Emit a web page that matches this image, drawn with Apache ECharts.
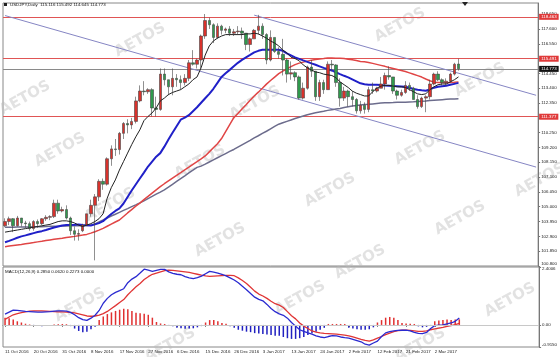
<!DOCTYPE html>
<html><head><meta charset="utf-8">
<script src="https://cdn.jsdelivr.net/npm/echarts@6/dist/echarts.min.js"></script>
<style>html,body{margin:0;padding:0;background:#fff}#c{width:560px;height:357px}</style>
</head><body><div id="c"></div>
<script>
// ---------- DATA ----------
const dateTicks = ['11 Oct 2016','20 Oct 2016','31 Oct 2016','8 Nov 2016','17 Nov 2016','27 Nov 2016','6 Dec 2016','15 Dec 2016','26 Dec 2016','3 Jan 2017','13 Jan 2017','24 Jan 2017','2 Feb 2017','12 Feb 2017','21 Feb 2017','2 Mar 2017'];
const opens = [103.65,103.95,104.15,103.65,104.20,103.85,103.80,103.45,103.95,103.80,104.15,104.25,104.30,105.25,104.70,104.80,104.20,103.30,103.05,103.30,103.70,104.50,105.10,105.70,106.80,106.60,108.40,109.10,109.05,110.20,110.90,110.80,111.05,112.50,113.20,113.15,113.30,112.00,111.90,114.40,114.00,113.50,114.10,114.00,113.80,114.10,115.20,115.10,115.40,117.10,118.20,117.90,117.00,117.80,117.50,117.60,117.30,117.40,117.45,117.30,116.50,116.90,117.50,117.80,117.20,115.40,117.00,116.00,115.80,115.40,114.40,114.50,114.20,112.70,113.40,114.90,114.60,112.80,113.80,113.30,115.10,115.05,113.80,112.70,113.20,112.80,112.60,111.80,112.20,111.90,113.30,113.20,113.40,113.70,114.30,114.20,113.20,112.90,113.10,113.60,113.40,112.60,112.10,112.70,112.80,113.70,114.40,114.00,113.80,113.90,114.40,115.116];
const highs = [104.18,104.30,104.20,104.35,104.20,104.00,103.95,104.05,104.10,104.20,104.40,104.40,105.50,105.50,105.00,105.10,104.30,103.60,103.40,103.80,104.50,105.50,105.90,106.95,107.00,108.50,109.35,109.80,110.30,111.00,111.20,111.30,112.80,113.60,113.90,113.40,113.40,112.80,114.80,114.80,114.00,114.80,114.40,114.30,114.40,115.40,116.10,115.50,117.20,118.66,118.40,118.00,118.00,117.90,117.70,117.80,117.60,117.80,117.70,117.30,117.00,117.60,118.60,118.00,117.30,117.50,117.00,116.30,116.90,115.50,115.30,114.60,114.30,113.80,115.00,115.40,114.60,114.00,114.00,115.30,115.40,115.10,114.10,113.50,113.30,113.20,112.70,112.50,112.40,113.50,113.80,113.50,114.20,114.50,114.95,114.20,113.30,113.30,113.90,113.80,113.50,112.90,112.80,112.90,114.00,114.50,114.60,114.10,114.10,114.50,115.20,115.492];
const lows = [103.55,103.70,103.20,103.60,103.60,103.50,103.30,103.30,103.50,103.70,104.00,104.05,104.20,104.50,104.60,104.10,103.00,102.60,102.60,103.20,103.70,104.30,101.20,105.40,106.20,106.50,107.90,108.60,108.70,109.80,110.20,110.50,110.90,112.40,112.90,113.00,111.40,111.40,111.80,113.60,112.90,112.90,113.50,113.30,113.60,113.90,115.00,114.80,114.80,116.90,117.60,116.60,116.90,117.20,117.30,117.10,117.10,117.20,116.90,116.10,116.00,116.90,117.20,116.90,115.10,115.30,115.90,115.50,114.30,113.80,114.00,113.90,112.60,112.60,113.30,114.20,112.50,112.50,113.00,113.30,114.60,113.50,112.10,112.50,112.10,112.10,111.60,111.60,111.60,111.70,113.00,113.10,113.40,113.30,114.00,113.00,112.60,112.80,113.00,113.20,112.60,111.95,112.00,111.70,112.60,113.60,113.90,113.60,113.60,113.80,114.30,114.645];
const closes = [103.95,104.15,103.65,104.20,103.85,103.80,103.45,103.95,103.80,104.15,104.25,104.30,105.25,104.70,104.80,104.20,103.30,103.05,103.10,103.70,104.50,105.10,105.70,106.80,106.60,108.40,109.10,109.05,110.20,110.90,110.80,111.05,112.50,113.20,113.15,113.30,112.00,111.90,114.40,114.00,113.50,114.10,114.00,113.80,114.10,115.20,115.10,115.40,117.10,118.20,117.90,117.00,117.80,117.50,117.60,117.30,117.40,117.45,117.30,116.50,116.90,117.50,117.80,117.20,115.40,117.00,116.00,115.80,115.40,114.40,114.50,114.20,112.70,113.40,114.90,114.60,112.80,113.80,113.30,115.10,115.05,113.80,112.70,113.20,112.80,112.60,111.80,112.20,111.90,113.30,113.20,113.40,113.70,114.30,114.20,113.20,112.90,113.10,113.60,113.40,112.60,112.10,112.70,112.80,113.70,114.40,114.00,113.80,113.90,114.40,115.10,114.773];
const maFast = [103.20,103.25,103.30,103.35,103.40,103.45,103.50,103.55,103.60,103.65,103.70,103.75,103.85,103.95,104.00,104.00,103.95,103.85,103.70,103.60,103.70,103.80,103.95,104.15,104.50,105.60,106.35,106.90,107.60,108.20,108.80,109.40,109.95,110.45,111.10,111.40,111.65,112.00,112.50,112.70,112.95,113.10,113.20,113.30,113.50,113.70,114.00,114.20,114.85,115.75,116.40,116.75,116.95,117.10,117.20,117.20,117.20,117.20,117.20,117.25,117.25,117.30,117.25,117.10,116.95,116.75,116.60,116.40,116.10,115.90,115.60,115.50,115.35,115.05,114.85,114.70,114.55,114.50,114.40,114.35,114.30,114.15,113.85,113.65,113.45,113.20,113.05,112.95,112.85,112.85,113.15,113.40,113.55,113.60,113.60,113.55,113.50,113.50,113.45,113.30,113.15,113.00,112.95,113.00,113.30,113.50,113.65,113.70,113.70,113.85,114.00,114.20];
const maMid = [102.48,102.58,102.69,102.80,102.90,102.97,103.05,103.13,103.21,103.27,103.35,103.44,103.53,103.60,103.67,103.70,103.71,103.72,103.75,103.70,103.69,103.67,103.75,103.84,103.98,104.24,104.48,104.70,104.88,105.23,105.69,106.15,106.58,107.00,107.42,107.85,108.20,108.55,108.80,109.26,109.76,110.25,110.71,111.17,111.31,111.49,111.77,112.05,112.37,112.69,113.00,113.36,113.78,114.20,114.46,114.70,114.95,115.20,115.41,115.59,115.76,115.94,116.05,116.12,116.12,116.12,116.12,116.12,116.05,115.87,115.73,115.59,115.48,115.37,115.27,115.16,115.06,114.95,114.84,114.74,114.66,114.53,114.40,114.28,114.17,114.03,113.89,113.75,113.68,113.64,113.64,113.64,113.63,113.60,113.58,113.56,113.54,113.52,113.50,113.43,113.35,113.29,113.25,113.22,113.32,113.44,113.51,113.54,113.57,113.64,113.71,113.78];
const maSlow = [102.17,102.21,102.25,102.29,102.33,102.38,102.42,102.46,102.51,102.55,102.60,102.65,102.69,102.73,102.77,102.82,102.86,102.90,102.95,102.99,103.04,103.13,103.23,103.34,103.47,103.62,103.77,103.92,104.06,104.31,104.56,104.80,105.04,105.26,105.50,105.73,105.97,106.20,106.42,106.63,106.83,107.03,107.23,107.42,107.62,107.80,108.00,108.19,108.39,108.60,108.89,109.18,109.47,109.83,110.32,110.82,111.31,111.61,111.93,112.23,112.55,112.85,113.12,113.40,113.69,113.95,114.19,114.43,114.61,114.77,114.93,115.07,115.18,115.25,115.32,115.39,115.43,115.47,115.50,115.54,115.55,115.53,115.52,115.50,115.45,115.41,115.36,115.30,115.27,115.23,115.16,115.09,115.02,114.95,114.87,114.80,114.73,114.66,114.58,114.49,114.39,114.29,114.19,114.05,113.93,113.83,113.81,113.80,113.78,113.80,113.82,113.85];
const maLong = [103.54,103.55,103.55,103.56,103.56,103.57,103.57,103.58,103.58,103.59,103.60,103.61,103.62,103.62,103.63,103.64,103.65,103.65,103.66,103.66,103.67,103.68,103.79,103.93,104.06,104.20,104.34,104.47,104.60,104.74,104.87,105.01,105.13,105.27,105.42,105.58,105.73,105.89,106.04,106.20,106.39,106.59,106.79,106.99,107.19,107.40,107.59,107.79,107.88,108.02,108.17,108.32,108.47,108.62,108.77,108.92,109.06,109.23,109.39,109.55,109.71,109.88,110.03,110.20,110.35,110.52,110.69,110.85,110.95,111.05,111.15,111.25,111.34,111.43,111.52,111.59,111.66,111.72,111.77,111.83,111.88,111.93,111.97,112.03,112.09,112.14,112.18,112.21,112.24,112.26,112.29,112.32,112.35,112.37,112.37,112.38,112.40,112.41,112.41,112.43,112.44,112.46,112.48,112.50,112.53,112.55,112.57,112.59,112.61,112.63,112.64,112.65];
const macdMain = [0.45,0.53,0.61,0.60,0.58,0.56,0.55,0.54,0.53,0.53,0.54,0.55,0.57,0.58,0.58,0.57,0.52,0.42,0.30,0.22,0.19,0.28,0.40,0.60,0.90,1.10,1.25,1.35,1.42,1.50,1.75,1.90,2.00,2.15,2.31,2.27,2.22,2.26,2.30,2.30,2.20,2.14,2.10,2.08,2.00,1.95,1.92,1.96,2.02,2.12,2.22,2.19,2.15,2.10,2.03,1.95,1.86,1.75,1.60,1.46,1.30,1.15,1.06,1.00,0.85,0.68,0.55,0.46,0.40,0.28,0.10,-0.05,-0.20,-0.27,-0.33,-0.38,-0.45,-0.50,-0.53,-0.48,-0.44,-0.45,-0.50,-0.53,-0.55,-0.60,-0.65,-0.70,-0.80,-0.84,-0.75,-0.67,-0.48,-0.33,-0.28,-0.25,-0.23,-0.22,-0.22,-0.25,-0.31,-0.35,-0.36,-0.31,-0.15,-0.03,-0.01,0.00,0.04,0.08,0.15,0.285];
const macdSignal = [0.23,0.33,0.42,0.47,0.51,0.54,0.57,0.58,0.58,0.58,0.57,0.56,0.55,0.54,0.54,0.53,0.52,0.50,0.46,0.42,0.37,0.36,0.37,0.41,0.47,0.56,0.68,0.80,0.93,1.05,1.25,1.42,1.58,1.72,1.88,2.00,2.10,2.15,2.20,2.25,2.27,2.26,2.24,2.22,2.20,2.18,2.14,2.10,2.06,2.03,2.01,2.02,2.03,2.04,2.05,2.05,2.04,1.95,1.84,1.72,1.56,1.40,1.28,1.20,1.10,0.98,0.88,0.82,0.72,0.55,0.38,0.25,0.08,-0.05,-0.15,-0.25,-0.30,-0.33,-0.35,-0.36,-0.37,-0.38,-0.40,-0.42,-0.45,-0.50,-0.55,-0.60,-0.64,-0.67,-0.62,-0.55,-0.48,-0.40,-0.34,-0.28,-0.24,-0.22,-0.22,-0.23,-0.25,-0.27,-0.27,-0.25,-0.20,-0.16,-0.13,-0.10,-0.06,-0.03,0.01,0.062];
const macdHist = [0.30,0.28,0.22,0.15,0.10,0.05,0.02,-0.03,-0.04,-0.05,-0.04,-0.03,0.02,0.03,0.04,0.03,-0.05,-0.15,-0.25,-0.30,-0.28,-0.18,-0.08,0.20,0.35,0.45,0.52,0.58,0.63,0.67,0.65,0.58,0.50,0.48,0.46,0.42,0.30,0.12,0.06,0.04,-0.02,-0.06,-0.12,-0.14,-0.16,-0.15,-0.14,-0.10,-0.05,0.10,0.20,0.20,0.15,0.08,0.05,-0.05,-0.12,-0.20,-0.24,-0.28,-0.30,-0.34,-0.36,-0.38,-0.40,-0.42,-0.45,-0.45,-0.50,-0.55,-0.58,-0.58,-0.55,-0.50,-0.42,-0.35,-0.28,-0.20,-0.12,0.04,0.04,0.04,0.04,0.04,-0.12,-0.15,-0.18,-0.20,-0.20,-0.18,-0.10,0.10,0.20,0.30,0.33,0.30,0.20,0.08,0.06,0.05,0.04,-0.06,-0.10,-0.08,-0.03,0.15,0.18,0.20,0.22,0.20,0.22,0.23];
const redLevels = [118.463, 115.491, 111.377];
const lastPrice = 114.773;
const channelLower = [[0, 118.55], [130, 107.81]];
const channelUpper = [[61, 118.58], [130, 112.90]];
const macdTickValues = [-0.915, 0, 2.4006];
const macdTickLabels = ['-0.9150', '0.00', '2.4006'];
const headerText = 'USDJPY,Daily  115.116 115.492 114.645 114.773';
const macdText = 'MACD(12,26,9) 0.2850 0.0620 0.2273 0.0000';
const totalSlots = 131;

// ---------- BUILD ----------
const cats = [];
for (let i = 0; i < totalSlots; i++) cats.push(String(i));
const candleData = opens.map((o, i) => [o, closes[i], lows[i], highs[i]]);
const UP = '#d8322c', DOWN = '#2f9a4c';
const FONT = 'Liberation Sans';
const FS = 4.4;

const wmPos = [[140,40],[400,25],[25,98],[255,103],[480,80],[60,150],[200,162],[420,148],[110,205],[330,190],[540,180],[220,240],[460,218],[360,262],[80,305],[300,298],[510,300],[170,345],[420,345]];
const graphics = wmPos.map(p => ({
  type: 'text', x: p[0], y: p[1], rotation: 0.5, z: 0, silent: true,
  style: { text: 'AETOS', fill: 'rgba(185,185,185,0.42)', font: 'bold 15px "DejaVu Sans"', align: 'center', verticalAlign: 'middle' }
}));
graphics.push({ type: 'rect', shape: { x: 4, y: 3, width: 3, height: 3 }, style: { fill: '#222' }, z: 10 });
graphics.push({ type: 'text', x: 10, y: 2.5, z: 10, style: { text: headerText, fill: '#111', font: '4.4px "Liberation Sans"' } });
graphics.push({ type: 'text', x: 5, y: 270, z: 10, style: { text: macdText, fill: '#111', font: '4.4px "Liberation Sans"' } });
graphics.push({ type: 'polygon', shape: { points: [[462,2],[468,2],[465,6]] }, style: { fill: '#222' }, z: 10 });

const tag = (txt, bg) => ({ show: true, position: 'end', distance: 1, formatter: txt, color: '#fff', backgroundColor: bg, fontSize: FS, fontFamily: FONT, padding: [1, 2, 1, 2] });
const levelLines = redLevels.map(v => ({ yAxis: v, lineStyle: { color: '#e05555', width: 1, type: 'solid' }, label: tag(v.toFixed(3), '#e03a3a') }));
levelLines.push({ yAxis: lastPrice, lineStyle: { color: '#8a8a8a', width: 1.2, type: 'solid' }, label: tag(lastPrice.toFixed(3), '#111') });
const chanStyle = { color: '#8686c4', width: 1, type: 'solid' };
levelLines.push([{ coord: channelLower[0], lineStyle: chanStyle, label: { show: false } }, { coord: channelLower[1] }]);
levelLines.push([{ coord: channelUpper[0], lineStyle: chanStyle, label: { show: false } }, { coord: channelUpper[1] }]);

const labelEvery = (i) => i % 7 === 0 && i / 7 < dateTicks.length;

const option = {
  animation: false,
  backgroundColor: '#ffffff',
  graphic: graphics,
  grid: [
    { left: 3, top: 3, width: 538, height: 263, show: true, borderColor: '#888', borderWidth: 1, backgroundColor: 'transparent' },
    { left: 3, top: 267, width: 538, height: 80, show: true, borderColor: '#888', borderWidth: 1, backgroundColor: 'transparent' }
  ],
  xAxis: [
    { type: 'category', gridIndex: 0, data: cats, boundaryGap: true, axisLine: { show: false }, axisTick: { show: false }, axisLabel: { show: false }, splitLine: { show: false } },
    { type: 'category', gridIndex: 1, data: cats, boundaryGap: true,
      axisLine: { show: true, lineStyle: { color: '#777' } },
      axisTick: { show: true, length: 2, alignWithLabel: true, interval: labelEvery, lineStyle: { color: '#777' } },
      axisLabel: { show: true, interval: labelEvery, showMinLabel: true, hideOverlap: false, formatter: (v, i) => dateTicks[i / 7] || '', fontSize: FS, fontFamily: FONT, color: '#222', align: 'left', margin: 3 },
      splitLine: { show: false } }
  ],
  yAxis: [
    { type: 'value', gridIndex: 0, position: 'right', min: 100.8, max: 119.44, interval: 1.05,
      axisLine: { show: true, lineStyle: { color: '#777' } }, axisTick: { show: true, length: 2, lineStyle: { color: '#777' } },
      axisLabel: { show: true, fontSize: FS, fontFamily: FONT, color: '#222', margin: 3, showMaxLabel: false, hideOverlap: false, verticalAlignMinLabel: 'bottom', formatter: (v) => v.toFixed(3) },
      splitLine: { show: false } },
    { type: 'value', gridIndex: 1, position: 'right', min: -0.915, max: 2.4006,
      axisLine: { show: true, lineStyle: { color: '#777' } },
      axisTick: { show: true, length: 2, customValues: macdTickValues, lineStyle: { color: '#777' } },
      axisLabel: { show: true, customValues: macdTickValues, hideOverlap: false, verticalAlignMaxLabel: 'top', verticalAlignMinLabel: 'bottom', fontSize: FS, fontFamily: FONT, color: '#222', margin: 3,
        formatter: (v) => { const k = macdTickValues.indexOf(v); return k >= 0 ? macdTickLabels[k] : ''; } },
      splitLine: { show: false } }
  ],
  series: [
    { type: 'line', name: 'maLong', xAxisIndex: 0, yAxisIndex: 0, data: maLong, symbol: 'none', lineStyle: { color: '#6c6c8c', width: 1.5 }, z: 3 },
    { type: 'line', name: 'maSlow', xAxisIndex: 0, yAxisIndex: 0, data: maSlow, symbol: 'none', lineStyle: { color: '#e04545', width: 1.5 }, z: 3 },
    { type: 'line', name: 'maMid', xAxisIndex: 0, yAxisIndex: 0, data: maMid, symbol: 'none', lineStyle: { color: '#2020c8', width: 2 }, z: 3 },
    { type: 'candlestick', name: 'USDJPY', xAxisIndex: 0, yAxisIndex: 0, data: candleData, barWidth: 3, z: 4,
      itemStyle: { color: UP, color0: DOWN, borderColor: '#444', borderColor0: '#444', borderWidth: 0.6 },
      markLine: { symbol: 'none', silent: true, animation: false, data: levelLines, z: 2 } },
    { type: 'line', name: 'maFast', xAxisIndex: 0, yAxisIndex: 0, data: maFast, symbol: 'none', lineStyle: { color: '#222', width: 1 }, z: 5 },
    { type: 'bar', name: 'hist', xAxisIndex: 1, yAxisIndex: 1, data: macdHist, barWidth: 1.5,
      itemStyle: { color: (p) => p.value >= 0 ? '#e03030' : '#2020c0' },
      markLine: { symbol: 'none', silent: true, data: [{ yAxis: 0, lineStyle: { color: '#c8c8c8', width: 1, type: 'solid' }, label: { show: false } }] } },
    { type: 'line', name: 'signal', xAxisIndex: 1, yAxisIndex: 1, data: macdSignal, symbol: 'none', lineStyle: { color: '#e03535', width: 1.3 } },
    { type: 'line', name: 'macd', xAxisIndex: 1, yAxisIndex: 1, data: macdMain, symbol: 'none', lineStyle: { color: '#2a2ad0', width: 1.3 } }
  ]
};
const chart = echarts.init(document.getElementById('c'), null, { renderer: 'canvas' });
chart.setOption(option);
</script>
</body></html>
